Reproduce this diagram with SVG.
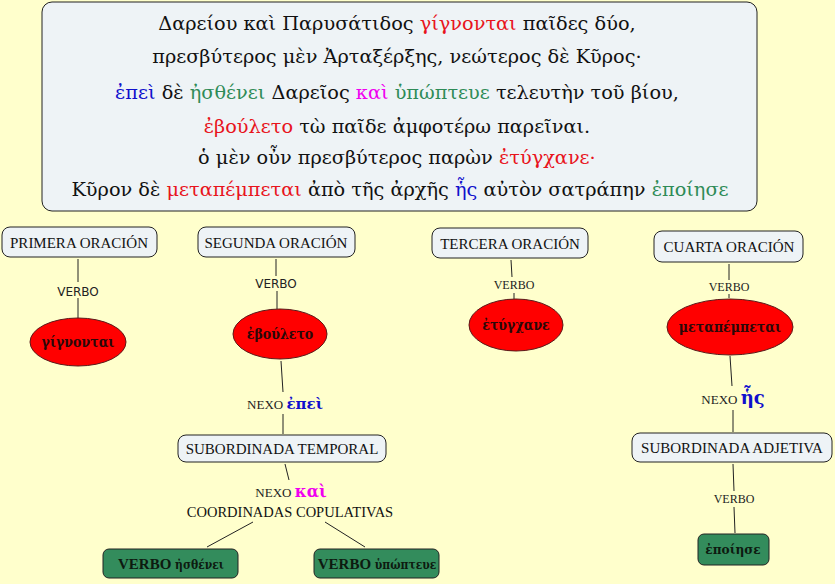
<svg xmlns="http://www.w3.org/2000/svg" width="835" height="584" viewBox="0 0 835 584">
<style>
.serif{font-family:"Liberation Serif","DejaVu Serif",serif}
.gk{font-family:"DejaVu Serif","Liberation Serif",serif}
.gkc{font-family:"DejaVu Serif Condensed","DejaVu Serif","Liberation Serif",serif}
.sans{font-family:"DejaVu Sans","Liberation Sans",sans-serif}
.main{font-size:19.3px;fill:#111}
.box{fill:#EEF3F6;stroke:#222;stroke-width:1}
.lbl{font-size:15px;fill:#111}
.ell{fill:#FF0000;stroke:#5a1a1a;stroke-width:1}
.ellt{font-size:14px;font-weight:bold;fill:#2a0808}
.grn{fill:#338C5C;stroke:#222;stroke-width:1}
.grnt{font-weight:bold;fill:#0d1a10}
.conn line{stroke:#222;stroke-width:1}
.small{font-size:12px;fill:#222}
.nexo{font-size:13px;fill:#222}
.r{fill:#E8141C}.b{fill:#1010CC}.g{fill:#2E8B57}.m{fill:#F000F0}
</style>
<rect width="835" height="584" fill="#FFFFCC"/>
<g id="texto">
<rect x="42" y="2" width="715" height="209" rx="10" class="box"/>
<text class="gk main" text-anchor="middle">
<tspan x="400" y="30">Δαρείου καὶ Παρυσάτιδος <tspan class="r">γίγνονται</tspan> παῖδες δύο,</tspan>
<tspan x="400" y="63">πρεσβύτερος μὲν Ἀρταξέρξης, νεώτερος δὲ Κῦρος·</tspan>
<tspan x="400" y="99"><tspan class="b">ἐπεὶ</tspan> δὲ <tspan class="g">ἠσθένει</tspan> Δαρεῖος <tspan class="m">καὶ</tspan> <tspan class="g">ὑπώπτευε</tspan> τελευτὴν τοῦ βίου,</tspan>
<tspan x="400" y="133"><tspan class="r">ἐβούλετο</tspan> τὼ παῖδε ἀμφοτέρω παρεῖναι.</tspan>
<tspan x="400" y="164">ὁ μὲν οὖν πρεσβύτερος παρὼν <tspan class="r">ἐτύγχανε·</tspan></tspan>
<tspan x="400" y="196">Κῦρον δὲ <tspan class="r">μεταπέμπεται</tspan> ἀπὸ τῆς ἀρχῆς <tspan class="b">ἧς</tspan> αὐτὸν σατράπην <tspan class="g">ἐποίησε</tspan></tspan>
</text>
</g>
<g class="conn" id="connectors">
<line x1="78" y1="259" x2="78" y2="282"/>
<line x1="78" y1="298" x2="78" y2="318"/>
<line x1="276" y1="259" x2="276" y2="276"/>
<line x1="277" y1="291" x2="277" y2="309"/>
<line x1="281" y1="361" x2="283" y2="392"/>
<line x1="283" y1="414" x2="283" y2="434"/>
<line x1="285" y1="464" x2="289" y2="480"/>
<line x1="253" y1="522" x2="207" y2="547"/>
<line x1="325" y1="522" x2="365" y2="547"/>
<line x1="511" y1="260" x2="512" y2="277"/>
<line x1="514" y1="293" x2="514" y2="299"/>
<line x1="729" y1="264" x2="729" y2="280"/>
<line x1="729" y1="294" x2="729" y2="298"/>
<line x1="730" y1="356" x2="732" y2="386"/>
<line x1="733" y1="410" x2="733" y2="432"/>
<line x1="733" y1="464" x2="734" y2="491"/>
<line x1="734" y1="507" x2="735" y2="533"/>
<text class="sans" font-size="12" fill="#222" text-anchor="middle" x="78" y="296">VERBO</text>
<text class="sans" font-size="12" fill="#222" text-anchor="middle" x="276" y="288">VERBO</text>
<text class="serif small" text-anchor="middle" x="514" y="289">VERBO</text>
<text class="serif small" text-anchor="middle" x="729" y="291">VERBO</text>
<text class="serif small" text-anchor="middle" x="734" y="503">VERBO</text>
<text text-anchor="middle" x="285" y="409"><tspan class="serif nexo">NEXO </tspan><tspan class="gk b" font-size="15" font-weight="bold">ἐπεὶ</tspan></text>
<text text-anchor="middle" x="291" y="497"><tspan class="serif nexo">NEXO </tspan><tspan class="gk m" font-size="16" font-weight="bold">καὶ</tspan></text>
<text class="serif" font-size="14.5" fill="#111" text-anchor="middle" x="290" y="517">COORDINADAS COPULATIVAS</text>
<text text-anchor="middle" x="733" y="404"><tspan class="serif nexo">NEXO </tspan><tspan class="gk b" font-size="18" font-weight="bold">ἧς</tspan></text>
</g>
<g id="primera"><rect x="2" y="227" width="155" height="30" rx="8" class="box"/><text class="serif lbl" text-anchor="middle" x="79" y="248">PRIMERA ORACIÓN</text></g>
<g id="segunda"><rect x="198" y="227" width="157" height="30" rx="8" class="box"/><text class="serif lbl" text-anchor="middle" x="276" y="248">SEGUNDA ORACIÓN</text></g>
<g id="tercera"><rect x="432" y="228" width="156" height="30" rx="8" class="box"/><text class="serif lbl" text-anchor="middle" x="510" y="249">TERCERA ORACIÓN</text></g>
<g id="cuarta"><rect x="654" y="231" width="149" height="31" rx="8" class="box"/><text class="serif lbl" text-anchor="middle" x="729" y="252">CUARTA ORACIÓN</text></g>
<g id="gignontai"><ellipse cx="78" cy="342" rx="48" ry="24" class="ell"/><text class="gkc ellt" text-anchor="middle" x="78" y="347">γίγνονται</text></g>
<g id="eboyleto"><ellipse cx="280" cy="334" rx="47" ry="25" class="ell"/><text class="gkc ellt" text-anchor="middle" x="280" y="339">ἐβούλετο</text></g>
<g id="etynchane"><ellipse cx="516" cy="325" rx="47" ry="26" class="ell"/><text class="gkc ellt" text-anchor="middle" x="516" y="330">ἐτύγχανε</text></g>
<g id="metapempetai"><ellipse cx="730" cy="327" rx="63" ry="28" class="ell"/><text class="gkc ellt" text-anchor="middle" x="730" y="332">μεταπέμπεται</text></g>
<g id="temporal"><rect x="178" y="435" width="208" height="27" rx="8" class="box"/><text class="serif lbl" text-anchor="middle" x="282" y="454">SUBORDINADA TEMPORAL</text></g>
<g id="adjetiva"><rect x="632" y="433" width="200" height="29" rx="8" class="box"/><text class="serif lbl" text-anchor="middle" x="732" y="453">SUBORDINADA ADJETIVA</text></g>
<g id="esthenei"><rect x="103" y="549" width="135" height="29" rx="6" class="grn"/><text class="grnt" text-anchor="middle" x="171" y="569"><tspan class="serif" font-size="15">VERBO </tspan><tspan class="gkc" font-size="12">ἠσθένει</tspan></text></g>
<g id="hypopteue"><rect x="314" y="549" width="125" height="29" rx="6" class="grn"/><text class="grnt" text-anchor="middle" x="377" y="569"><tspan class="serif" font-size="15">VERBO </tspan><tspan class="gkc" font-size="12">ὑπώπτευε</tspan></text></g>
<g id="epoiese"><rect x="698" y="534" width="71" height="31" rx="6" class="grn"/><text class="gkc grnt" text-anchor="middle" x="733" y="554" font-size="13.5">ἐποίησε</text></g>
</svg>
